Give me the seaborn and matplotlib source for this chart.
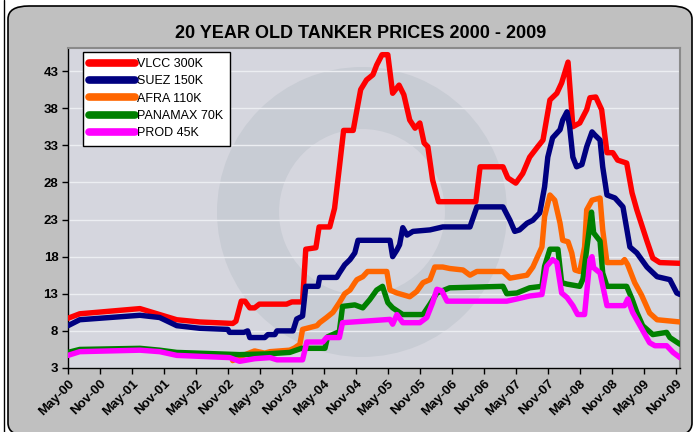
import numpy as np
import pandas as pd
import seaborn as sns
import matplotlib
matplotlib.use("Agg")
import matplotlib.pyplot as plt
from matplotlib.patches import FancyBboxPatch, Wedge
from matplotlib.transforms import IdentityTransform

# ---- data (x = months since May-2000) ----
series_names = ["VLCC 300K", "SUEZ 150K", "AFRA 110K", "PANAMAX 70K", "PROD 45K"]

vlcc_m = [0, 2.2, 13.5, 20.4, 24.7, 30.9, 31.5, 32.5, 33.2, 34.1, 35.0, 35.9, 41.0, 42.0, 44.0, 44.6,
          46.5, 47.1, 49.1, 50.0, 50.9, 51.7, 53.5, 54.0, 54.9, 56.0, 57.2, 57.9, 58.9, 59.99, 60.9,
          62.1, 63.0, 64.1, 65.1, 66.0, 66.8, 67.5, 68.4, 69.5, 76.5, 77.3, 81.6, 82.5, 84.0, 85.3,
          86.6, 88.1, 89.1, 90.4, 91.7, 92.6, 93.8, 94.7, 96.0, 97.3, 97.9, 99.0, 100.1, 101.1, 102.2,
          103.1, 104.8, 105.8, 106.7, 108.6, 109.7, 111.0, 114.8]
vlcc_v = [9.7, 10.3, 11.0, 9.5, 9.2, 9.0, 9.3, 12.0, 12.0, 11.1, 11.1, 11.6, 11.6, 11.9, 11.9, 19.0,
          19.2, 22.0, 22.0, 24.5, 30.0, 35.0, 35.0, 37.0, 40.5, 41.8, 42.5, 43.8, 45.2, 45.2, 40.0,
          41.1, 39.8, 36.4, 35.3, 36.0, 33.3, 32.8, 28.3, 25.4, 25.4, 30.1, 30.1, 28.6, 27.9, 29.2,
          31.4, 32.8, 33.7, 39.1, 40.0, 41.4, 44.2, 35.5, 36.0, 37.8, 39.4, 39.5, 37.8, 32.0, 32.0,
          31.0, 30.6, 26.6, 24.3, 20.1, 17.8, 17.2, 17.1]

suez_m = [0, 2.2, 13.5, 17.2, 20.4, 24.7, 30.0, 30.3, 33.0, 33.7, 34.1, 36.9, 37.5, 38.8, 39.2, 42.2,
          42.9, 44.0, 44.6, 46.9, 47.2, 50.4, 50.9, 51.9, 52.9, 53.8, 54.4, 60.4, 60.9, 61.7, 62.2,
          62.8, 63.6, 64.7, 67.9, 70.3, 75.4, 76.7, 81.6, 82.9, 83.8, 84.7, 86.1, 87.2, 88.5, 89.4,
          90.0, 90.9, 92.3, 92.8, 93.6, 94.1, 94.7, 95.4, 96.4, 97.3, 98.3, 98.8, 99.8, 100.3, 101.1,
          102.6, 104.1, 105.4, 106.7, 108.6, 110.5, 112.9, 114.2, 114.8]
suez_v = [8.7, 9.5, 10.1, 9.8, 8.7, 8.35, 8.2, 7.8, 7.8, 8.0, 7.1, 7.1, 7.5, 7.5, 8.0, 8.0,
          9.6, 10.0, 14.0, 14.0, 15.2, 15.2, 15.8, 16.9, 17.6, 18.5, 20.2, 20.2, 18.0, 18.9, 19.6,
          21.9, 20.9, 21.4, 21.6, 22.0, 22.0, 24.7, 24.7, 22.9, 21.4, 21.6, 22.5, 22.9, 23.9, 27.4,
          31.4, 34.0, 35.1, 36.4, 37.5, 35.5, 31.4, 30.1, 30.4, 32.8, 34.8, 34.4, 33.7, 30.1, 26.3,
          25.9, 24.7, 19.3, 18.5, 16.6, 15.3, 14.9, 13.1, 12.9]

afra_m = [30.9, 32.2, 35.0, 36.9, 37.9, 41.6, 42.5, 43.5, 44.0, 46.7, 47.2, 48.5, 49.7, 50.9, 51.9,
          52.9, 53.8, 54.2, 55.3, 56.2, 59.8, 60.4, 61.7, 64.1, 65.4, 66.6, 67.9, 68.8, 70.3, 71.6,
          74.1, 75.4, 76.7, 81.6, 82.9, 86.1, 87.2, 88.9, 89.4, 90.4, 91.3, 92.3, 92.8, 93.8, 94.5,
          95.1, 96.0, 96.9, 97.3, 98.3, 99.8, 100.3, 101.1, 103.9, 104.4, 105.0, 106.3, 107.6, 109.1,
          110.5, 114.8]
afra_v = [4.0, 4.5, 5.3, 5.0, 5.2, 5.4, 5.7, 6.2, 8.2, 8.7, 9.1, 9.8, 10.5, 11.8, 13.0,
          13.5, 14.5, 14.9, 15.3, 16.0, 16.0, 13.5, 13.1, 12.6, 13.3, 14.5, 14.9, 16.6, 16.6, 16.4,
          16.2, 15.5, 16.0, 16.0, 15.1, 15.5, 16.6, 19.3, 23.4, 26.3, 25.6, 22.5, 20.2, 20.0, 18.5,
          16.2, 16.0, 19.3, 24.3, 25.6, 25.9, 21.6, 17.2, 17.2, 17.6, 16.9, 14.5, 12.8, 10.4,
          9.5, 9.2]

pmax_m = [0, 2.2, 13.5, 17.2, 20.4, 30.3, 32.2, 37.3, 41.6, 43.8, 48.2, 48.7, 50.9, 51.5, 53.8,
          55.3, 56.6, 57.9, 59.0, 60.0, 60.9, 62.8, 66.6, 67.9, 69.2, 71.6, 81.6, 82.3, 84.2, 86.6,
          88.9, 89.4, 90.4, 91.9, 92.6, 93.6, 96.0, 96.6, 97.3, 98.2, 98.6, 99.8, 100.3, 101.1, 104.8,
          105.8, 106.7, 107.8, 109.7, 112.3, 112.9, 114.8]
pmax_v = [5.1, 5.5, 5.65, 5.4, 5.1, 4.85, 4.8, 4.9, 5.1, 5.65, 5.65, 7.2, 7.9, 11.3, 11.5,
          11.1, 12.2, 13.5, 14.0, 11.8, 11.1, 10.2, 10.2, 11.6, 13.1, 13.8, 14.0, 13.0, 13.1, 13.8,
          14.0, 16.7, 19.0, 19.0, 14.5, 14.3, 14.0, 15.0, 19.0, 24.0, 21.2, 20.1, 15.8, 14.0, 14.0,
          12.3, 10.5, 8.7, 7.5, 7.8, 7.1, 6.2]

prod_m = [0, 2.2, 13.5, 17.2, 20.4, 30.3, 32.2, 35.0, 37.9, 39.2, 44.0, 44.8, 47.8, 48.5, 50.9,
          51.5, 60.4, 60.9, 61.7, 62.8, 66.0, 67.3, 68.4, 69.2, 70.1, 71.1, 82.3, 84.2, 86.6, 88.9,
          89.8, 90.9, 91.7, 92.6, 93.6, 94.7, 95.6, 96.9, 97.9, 98.3, 98.6, 99.8, 101.1, 104.4, 105.0,
          105.9, 107.3, 109.1, 110.1, 112.3, 113.5, 114.8]
prod_v = [4.7, 5.2, 5.4, 5.2, 4.7, 4.4, 3.9, 4.25, 4.4, 4.1, 4.1, 6.5, 6.5, 7.1, 7.1,
          9.1, 9.55, 8.9, 10.2, 9.1, 9.1, 9.8, 11.8, 13.6, 13.4, 12.0, 12.0, 12.3, 12.7, 12.9,
          16.7, 17.6, 17.2, 13.1, 12.5, 11.4, 10.2, 10.2, 17.6, 18.0, 16.5, 15.8, 11.4, 11.4, 12.3,
          10.5, 8.7, 6.4, 6.0, 6.0, 5.1, 4.4]

colors = ["#ff0000", "#000080", "#ff6600", "#008000", "#ff00ff"]

x_ticks = list(range(0, 115, 6))
x_labels = ["May-00", "Nov-00", "May-01", "Nov-01", "May-02", "Nov-02", "May-03", "Nov-03",
            "May-04", "Nov-04", "May-05", "Nov-05", "May-06", "Nov-06", "May-07", "Nov-07",
            "May-08", "Nov-08", "May-09", "Nov-09"]
y_ticks = [3, 8, 13, 18, 23, 28, 33, 38, 43]

title = "20 YEAR OLD TANKER PRICES 2000 - 2009"

# ---- build long table ----
frames = []
for name, m, v in zip(series_names,
                      [vlcc_m, suez_m, afra_m, pmax_m, prod_m],
                      [vlcc_v, suez_v, afra_v, pmax_v, prod_v]):
    frames.append(pd.DataFrame({"month": m, "price": v, "series": name}))
df = pd.concat(frames, ignore_index=True)

sns.set_theme(style="white")
plt.rcParams["font.family"] = ["Liberation Sans", "DejaVu Sans"]
plt.rcParams["text.color"] = "black"
plt.rcParams["xtick.color"] = "black"
plt.rcParams["ytick.color"] = "black"
plt.rcParams["axes.labelcolor"] = "black"

fig = plt.figure(figsize=(7.0, 4.32), dpi=100, facecolor="white")

# outer grey rounded panel
panel = FancyBboxPatch((8 / 700, -4 / 432), 684 / 700, 430 / 432,
                       boxstyle="round,pad=0,rounding_size=0.03",
                       transform=fig.transFigure, facecolor="#c0c0c0",
                       edgecolor="black", linewidth=1.2, zorder=-5)
fig.patches.append(panel)
edge = plt.Line2D([4 / 700, 4 / 700], [0, 1], transform=fig.transFigure,
                  color="black", linewidth=1.0, zorder=-5)
fig.add_artist(edge)

ax = fig.add_axes([68 / 700, 1 - 368 / 432, 612 / 700, 320 / 432])
ax.set_zorder(2)
ax.set_facecolor("#d5d6de")

# faint watermark ring
ring = Wedge((362, 432 - 212), 145, 0, 360, width=62, transform=IdentityTransform(),
             facecolor="#c8ccd4", edgecolor="none", zorder=0.5)
ax.add_patch(ring)
ring.set_clip_path(ax.patch)

for yt in y_ticks:
    ax.axhline(yt, color="#eceef2", linewidth=1.0, zorder=1)

sns.lineplot(data=df, x="month", y="price", hue="series", hue_order=series_names,
             palette=colors, estimator=None, sort=False, linewidth=3.9, ax=ax,
             zorder=3)

ax.set_xlim(0, 114.8)
ax.set_ylim(3, 46.1)
ax.set_xticks(x_ticks)
ax.set_xticklabels(x_labels, rotation=45, ha="right", rotation_mode="anchor",
                   fontsize=9.5, fontweight="bold")
ax.set_yticks(y_ticks)
ax.set_yticklabels([str(t) for t in y_ticks], fontsize=9.5, fontweight="bold")
ax.tick_params(axis="both", direction="out", length=4, width=1, color="black",
               bottom=True, left=True, pad=3)
ax.set_xlabel("")
ax.set_ylabel("")

for s in ["left", "bottom"]:
    ax.spines[s].set_color("black")
    ax.spines[s].set_linewidth(1.0)
for s in ["top", "right"]:
    ax.spines[s].set_color("#8a8a8a")
    ax.spines[s].set_linewidth(1.5)

fig.text(361 / 700, 1 - 33 / 432, title, ha="center", va="center",
         fontsize=13, fontweight="bold", color="black")

handles, labels = ax.get_legend_handles_labels()
for h in handles:
    h.set_linewidth(5.5)
leg = ax.legend(handles, labels, loc="upper left", bbox_to_anchor=(0.0245, 0.9875),
                borderaxespad=0, frameon=True, fancybox=False, fontsize=9,
                handlelength=3.7, handletextpad=0.15, labelspacing=0.42,
                borderpad=0.5)
leg.get_frame().set_edgecolor("black")
leg.get_frame().set_linewidth(1.0)
leg.get_frame().set_facecolor("white")
leg.get_frame().set_alpha(1)

fig.savefig("out.png", dpi=100, facecolor=fig.get_facecolor())
